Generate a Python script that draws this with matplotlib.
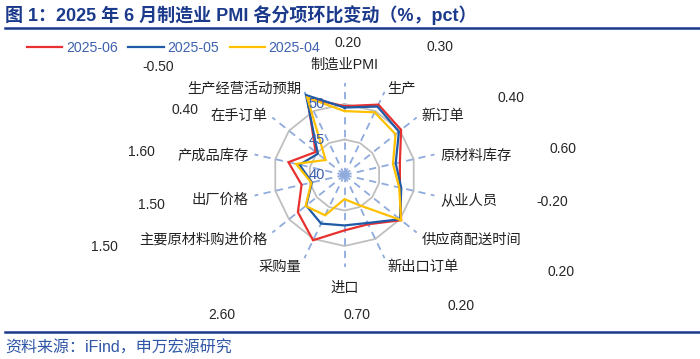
import numpy as np
import matplotlib
matplotlib.use("Agg")
import matplotlib.pyplot as plt
from matplotlib.lines import Line2D
from matplotlib.transforms import offset_copy

plt.rcParams['font.family'] = ['Liberation Sans', 'Noto Sans CJK SC', 'DejaVu Sans']

# ---------------- data ----------------
categories = ["制造业PMI", "生产", "新订单", "原材料库存", "从业人员", "供应商配送时间",
              "新出口订单", "进口", "采购量", "主要原材料购进价格", "出厂价格",
              "产成品库存", "在手订单", "生产经营活动预期"]
series_names = ["2025-06", "2025-05", "2025-04"]
jun = [49.7, 51.0, 50.2, 48.0, 48.0, 50.2, 47.7, 47.8, 50.2, 48.4, 46.2, 48.1, 45.2, 52.0]
may = [49.5, 50.7, 49.8, 47.4, 48.2, 50.0, 47.5, 47.1, 47.6, 46.9, 44.7, 46.5, 44.8, 52.5]
apr = [49.0, 49.8, 49.2, 47.0, 47.9, 50.2, 44.7, 43.4, 46.3, 47.0, 44.8, 47.0, 43.4, 52.1]
changes = [0.20, 0.30, 0.40, 0.60, -0.20, 0.20, 0.20, 0.70, 2.60, 1.50, 1.50, 1.60, 0.40, -0.50]
r_ticks = [40, 45, 50]
r_min, r_max = 40, 55

# ---------------- style ----------------
colors = ["#E8302E", "#1F5AA6", "#FFC000"]
ring_color = "#BFBFBF"
spoke_color = "#8FAADC"
navy = "#1B3A8C"
W, H = 700, 359

fig = plt.figure(figsize=(W / 100, H / 100), dpi=100)

# polar axes: centre (344.5, 175) px, outer radius 106.5 px
cx, cy, R = 344.5, 175, 106.5
ax = fig.add_axes([(cx - R) / W, (H - cy - R) / H, 2 * R / W, 2 * R / H], projection='polar')
ax.set_theta_offset(np.pi / 2)
ax.set_theta_direction(-1)
ax.set_ylim(r_min, r_max)
ax.grid(False)
ax.spines['polar'].set_visible(False)
ax.set_xticks([])
ax.set_yticks([])
ax.patch.set_alpha(0)

n = len(categories)
angles = np.arange(n) * 2 * np.pi / n
closed = np.append(angles, angles[0])

# polygon rings
for rv in r_ticks[1:]:
    ax.plot(closed, [rv] * (n + 1), color=ring_color, lw=1.3, zorder=1)

# dashed spokes
for a in angles:
    ax.plot([a, a], [r_min, 53.0], color=spoke_color, lw=1.3, dashes=(4, 3), zorder=1)

# series
for vals, c, name in zip([jun, may, apr], colors, series_names):
    ax.plot(closed, list(vals) + [vals[0]], color=c, lw=1.6, zorder=3, label=name,
            solid_joinstyle='miter')

# radial tick labels
for rv in r_ticks:
    tr = offset_copy(ax.transData, fig=fig, x=-27.5, y=0, units='dots')
    ax.text(0, rv, str(rv), transform=tr, ha='center', va='center', fontsize=10.5,
            color="#3A5DAE", zorder=4)

# category labels
for a, lab in zip(angles, categories):
    s, c = np.sin(a), np.cos(a)
    if abs(s) < 0.1:
        ha = 'center'
        rr = 55.9 if c > 0 else 55.5
    else:
        ha = 'left' if s > 0 else 'right'
        rr = 53.9
    tr = offset_copy(ax.transData, fig=fig, x=0, y=-3, units='dots')
    ax.text(a, rr, lab, transform=tr, ha=ha, va='center', fontsize=10.3, color="#222222",
            family=['Liberation Sans', 'Noto Sans CJK SC'])

# change labels (pct)
label_px = [(348, 43), (440, 47), (511, 98), (563, 149), (552, 202), (561, 272),
            (461, 306), (357, 315), (222, 315), (104, 247), (151, 205), (141, 152),
            (185, 110), (158, 67)]
for v, (px, py) in zip(changes, label_px):
    fig.text(px / W, 1 - py / H, f"{v:.2f}", ha='center', va='center', fontsize=10,
             color="#262626")

# legend
handles = [Line2D([], [], color=c, lw=1.6) for c in colors]
fig.legend(handles, series_names, loc='center left', bbox_to_anchor=(27 / W, 1 - 48 / H),
           ncol=3, frameon=False, fontsize=10.2, handlelength=2.5, handletextpad=0.25,
           columnspacing=0.75, borderpad=0, borderaxespad=0, labelcolor="#3F62AE")

# title, rules, source
fig.text(5 / W, 1 - 15 / H, "图 1：2025 年 6 月制造业 PMI 各分项环比变动（%，pct）",
         ha='left', va='center', fontsize=13, fontweight='bold', color=navy)
fig.add_artist(Line2D([5 / W, 1], [1 - 28 / H] * 2, color=navy, lw=1.8))
fig.add_artist(Line2D([5 / W, 1], [1 - 332 / H] * 2, color=navy, lw=1.8))
fig.text(5 / W, 1 - 348 / H, "资料来源：iFind，申万宏源研究", ha='left', va='center',
         fontsize=11.5, color="#2F56A6")

fig.savefig("out.png", dpi=100)
